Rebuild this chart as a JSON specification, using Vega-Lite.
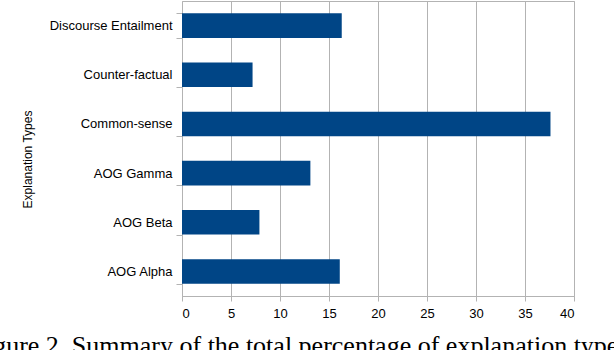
{
  "$schema": "https://vega.github.io/schema/vega-lite/v6.json",
  "width": 392,
  "height": 295,
  "autosize": {"type": "none"},
  "padding": {"left": 182, "top": 1, "right": 40, "bottom": 54},
  "background": "white",
  "data": {
    "values": [
      {"type": "Discourse Entailment", "pct": 16.3},
      {"type": "Counter-factual", "pct": 7.2},
      {"type": "Common-sense", "pct": 37.6},
      {"type": "AOG Gamma", "pct": 13.1},
      {"type": "AOG Beta", "pct": 7.9},
      {"type": "AOG Alpha", "pct": 16.1}
    ]
  },
  "title": {
    "text": "Figure 2. Summary of the total percentage of explanation types",
    "orient": "bottom",
    "anchor": "middle",
    "frame": "group",
    "font": "Liberation Serif",
    "fontSize": 26,
    "fontWeight": "normal",
    "color": "black",
    "dx": -78,
    "offset": 13,
    "baseline": "top"
  },
  "mark": {"type": "bar", "color": "#004586"},
  "encoding": {
    "y": {
      "field": "type",
      "type": "nominal",
      "sort": null,
      "scale": {"paddingInner": 0.5, "paddingOuter": 0.25},
      "axis": {
        "title": "Explanation Types",
        "titleFont": "Liberation Sans",
        "titleFontSize": 12,
        "titleFontWeight": "normal",
        "titleColor": "black",
        "titleX": -148,
        "titleY": 158,
        "labelFont": "Liberation Sans",
        "labelFontSize": 13,
        "labelColor": "black",
        "labelPadding": 4,
        "tickBand": "extent",
        "tickSize": 6,
        "tickColor": "#b3b3b3",
        "domain": false,
        "grid": false
      }
    },
    "x": {
      "field": "pct",
      "type": "quantitative",
      "scale": {"domain": [0, 40], "nice": false},
      "axis": {
        "title": null,
        "values": [0, 5, 10, 15, 20, 25, 30, 35, 40],
        "grid": true,
        "gridColor": "#b3b3b3",
        "gridOpacity": 1,
        "domainColor": "#b3b3b3",
        "tickColor": "#b3b3b3",
        "tickSize": 5,
        "labelFont": "Liberation Sans",
        "labelFontSize": 13,
        "labelColor": "black",
        "labelPadding": 6
      }
    }
  },
  "config": {
    "view": {"stroke": "#b3b3b3"}
  }
}
